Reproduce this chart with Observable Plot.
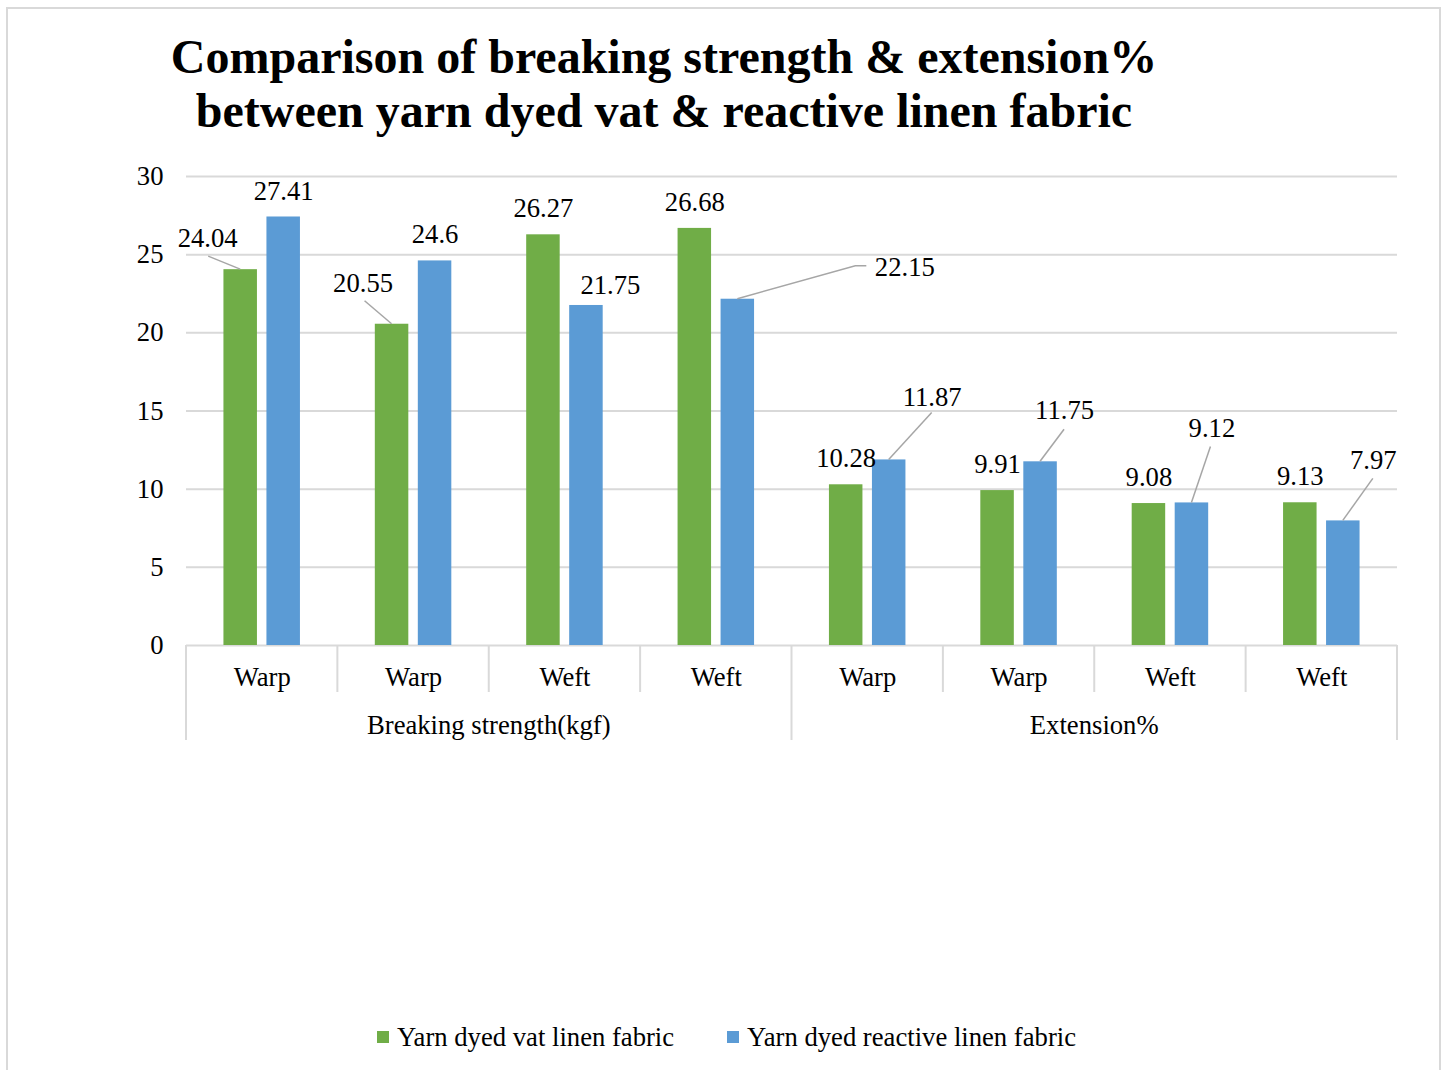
<!DOCTYPE html>
<html>
<head>
<meta charset="utf-8">
<script src="https://cdn.jsdelivr.net/npm/d3@7"></script>
<script src="https://cdn.jsdelivr.net/npm/@observablehq/plot@0.6"></script>
<style>
  html, body { margin: 0; padding: 0; background: #fff; }
  body { width: 1442px; height: 1070px; position: relative; overflow: hidden;
         font-family: "Liberation Serif", "Times New Roman", serif; color: #000; }
  #frame { position: absolute; left: 6px; top: 7px; width: 1435px; height: 1090px;
           border: 2px solid #d9d9d9; box-sizing: border-box; }
  #title { position: absolute; left: 0; top: 30px; width: 1328px; text-align: center;
           font-weight: bold; font-size: 48px; line-height: 54px; }
  #chart { position: absolute; left: 0; top: 0; }
  #legend { position: absolute; left: 377px; top: 1020px; display: flex; gap: 53px;
            font-size: 26.67px; line-height: 34px; white-space: nowrap; }
  .item { display: flex; align-items: center; }
  .swatch { width: 12px; height: 12px; margin-right: 8px; }
</style>
</head>
<body>
<div id="frame"></div>
<div id="title">Comparison of breaking strength &amp; extension%<br>between yarn dyed vat &amp; reactive linen fabric</div>
<div id="chart"></div>
<div id="legend"></div>
<script>
// Test direction of each category, and the property group it belongs to
const directions = ["Warp", "Warp", "Weft", "Weft", "Warp", "Warp", "Weft", "Weft"];
const groupOf = [0, 0, 0, 0, 1, 1, 1, 1];
const groupNames = ["Breaking strength(kgf)", "Extension%"];

// Measured values per category
const vatValues = [24.04, 20.55, 26.27, 26.68, 10.28, 9.91, 9.08, 9.13];
const reactiveValues = [27.41, 24.6, 21.75, 22.15, 11.87, 11.75, 9.12, 7.97];

const seriesNames = ["Yarn dyed vat linen fabric", "Yarn dyed reactive linen fabric"];
const seriesColors = ["#70ad47", "#5b9bd5"];

const yTicks = [0, 5, 10, 15, 20, 25, 30];

// Labels that sit away from their bar: centre offset (px) from the bar top,
// and the leader path (px, relative to the bar top) drawn towards the label.
const callouts = [
  {series: 0, cat: 0, dx: -33, dy: -31, path: [[0, 0], [-32, -13]]},
  {series: 0, cat: 1, dx: -29, dy: -41, path: [[0, 0], [-27, -23]]},
  {series: 1, cat: 2, dx: 24, dy: -20, path: null},
  {series: 1, cat: 3, dx: 167, dy: -32, path: [[0, 0], [118, -33], [129, -33]]},
  {series: 1, cat: 4, dx: 43, dy: -62, path: [[0, 0], [43, -47]]},
  {series: 1, cat: 5, dx: 24, dy: -51, path: [[0, 0], [24, -32]]},
  {series: 1, cat: 6, dx: 20, dy: -74, path: [[0, 0], [19, -56]]},
  {series: 1, cat: 7, dx: 30, dy: -60, path: [[0, 0], [30, -42]]}
];

// Layout
const W = 1442, H = 1070;
const mL = 186, mR = 45, mT = 176, mB = 425;
const band = (W - mL - mR) / directions.length;
const barW = 33.5, gap = 9.5;
const barOffset = gap / 2 + barW / 2;          // bar centre distance from band centre
const outerInset = band / 2 - gap / 2 - barW;
const innerInset = band / 2 + gap / 2;
const gridColor = "#d9d9d9";
const leaderColor = "#a6a6a6";

const rows = directions.flatMap((d, i) => [
  {i, series: 0, value: vatValues[i]},
  {i, series: 1, value: reactiveValues[i]}
]);
const isCallout = d => callouts.some(c => c.series === d.series && c.cat === d.i);
const sign = s => (s === 0 ? -1 : 1);

// Category separators, group labels and callout leaders, drawn with the plot's scales
function categoryFrame(index, scales) {
  const x = scales.x, y = scales.y;
  const bw = x.bandwidth();
  const base = y(0);
  const n = directions.length;
  const g = d3.create("svg:g");

  const edges = d3.range(n + 1).map(k => ({
    px: k < n ? x(k) : x(n - 1) + bw,
    groupEdge: k === 0 || k === n || groupOf[k] !== groupOf[k - 1]
  }));
  g.append("g")
    .attr("stroke", gridColor).attr("stroke-width", 2)
    .selectAll("line").data(edges).join("line")
    .attr("x1", e => e.px).attr("x2", e => e.px)
    .attr("y1", base).attr("y2", e => base + (e.groupEdge ? 95 : 47));

  const groups = groupNames.map((name, gi) => {
    const cats = d3.range(n).filter(k => groupOf[k] === gi);
    return {name, cx: (x(cats[0]) + x(cats[cats.length - 1]) + bw) / 2};
  });
  g.append("g")
    .attr("text-anchor", "middle").attr("fill", "#000")
    .selectAll("text").data(groups).join("text")
    .attr("x", d => d.cx).attr("y", base + 89)
    .text(d => d.name);

  const values = [vatValues, reactiveValues];
  g.append("g")
    .attr("fill", "none").attr("stroke", leaderColor).attr("stroke-width", 1.5)
    .selectAll("polyline").data(callouts.filter(c => c.path)).join("polyline")
    .attr("points", c => {
      const px = x(c.cat) + bw / 2 + sign(c.series) * barOffset;
      const py = y(values[c.series][c.cat]);
      return c.path.map(([dx, dy]) => `${px + dx},${py + dy}`).join(" ");
    });
  return g.node();
}

const valueLabel = d => String(d.value);

const chart = Plot.plot({
  width: W,
  height: H,
  marginLeft: mL,
  marginRight: mR,
  marginTop: mT,
  marginBottom: mB,
  style: {fontFamily: "'Liberation Serif', 'Times New Roman', serif", fontSize: "26.67px", color: "#000", background: "transparent", overflow: "visible"},
  x: {type: "band", domain: d3.range(directions.length), padding: 0, round: false},
  y: {domain: [0, 30]},
  marks: [
    Plot.gridY(yTicks, {stroke: gridColor, strokeOpacity: 1, strokeWidth: 2}),
    Plot.barY(rows.filter(d => d.series === 0), {x: "i", y: "value", fill: seriesColors[0], insetLeft: outerInset, insetRight: innerInset}),
    Plot.barY(rows.filter(d => d.series === 1), {x: "i", y: "value", fill: seriesColors[1], insetLeft: innerInset, insetRight: outerInset}),
    Plot.axisY({ticks: yTicks, tickSize: 0, tickPadding: 23, label: null, fill: "#000"}),
    Plot.axisX({tickSize: 0, tickPadding: 22, tickFormat: i => directions[i], label: null, fill: "#000"}),
    // labels sitting directly above their bars
    ...[0, 1].map(s => Plot.text(rows.filter(d => d.series === s && !isCallout(d)), {
      x: "i", y: "value", text: valueLabel, dx: sign(s) * barOffset, dy: -26, fill: "#000"
    })),
    // labels moved aside
    ...callouts.map(c => Plot.text(rows.filter(d => d.series === c.series && d.i === c.cat), {
      x: "i", y: "value", text: valueLabel, dx: sign(c.series) * barOffset + c.dx, dy: c.dy, fill: "#000"
    })),
    categoryFrame
  ]
});
document.getElementById("chart").appendChild(chart);

// Legend
const legend = d3.select("#legend");
seriesNames.forEach((name, s) => {
  const item = legend.append("div").attr("class", "item");
  item.append("div").attr("class", "swatch").style("background", seriesColors[s]);
  item.append("span").text(name);
});
</script>
</body>
</html>
